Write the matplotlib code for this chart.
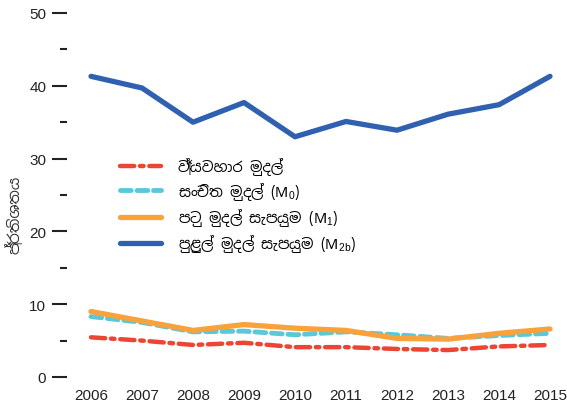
import matplotlib
matplotlib.use("Agg")
import matplotlib.pyplot as plt
from matplotlib.ticker import MultipleLocator

# --- DATA ---
years = [2006, 2007, 2008, 2009, 2010, 2011, 2012, 2013, 2014, 2015]
currency = [5.45, 5.0, 4.4, 4.7, 4.1, 4.1, 3.85, 3.7, 4.2, 4.4]
reserve_m0 = [8.3, 7.5, 6.2, 6.3, 5.8, 6.2, 5.8, 5.3, 5.7, 6.0]
narrow_m1 = [9.0, 7.7, 6.4, 7.2, 6.7, 6.4, 5.3, 5.2, 6.0, 6.6]
broad_m2b = [41.3, 39.7, 35.0, 37.7, 33.0, 35.1, 33.9, 36.1, 37.4, 41.3]

labels = ["ව්‍යවහාර මුදල්", "සංචිත මුදල් (M$_0$)",
          "පටු මුදල් සැපයුම (M$_1$)", "පුළුල් මුදල් සැපයුම (M$_{2b}$)"]
ylabel = "ප්‍රතිශතය"

SI = ["Noto Sans Sinhala", "Liberation Sans", "DejaVu Sans"]
plt.rcParams["font.family"] = ["Liberation Sans", "DejaVu Sans"]
plt.rcParams["mathtext.fontset"] = "custom"
plt.rcParams["mathtext.rm"] = "Liberation Sans"
plt.rcParams["mathtext.it"] = "Liberation Sans"

fig = plt.figure(figsize=(5.67, 4.14), dpi=100)
ax = fig.add_axes([67 / 567, 1 - 378 / 414, 500 / 567, 364 / 414])

ax.plot(years, currency, color="#ee4433", lw=3.2, dashes=(3.2, 1.3, 0.8, 1.3),
        dash_capstyle="round", label=labels[0])
ax.plot(years, reserve_m0, color="#5bc8da", lw=3.5, dashes=(2.2, 1.2),
        dash_capstyle="round", label=labels[1])
ax.plot(years, narrow_m1, color="#f9a23b", lw=3.8, solid_capstyle="round",
        label=labels[2])
ax.plot(years, broad_m2b, color="#3060b0", lw=3.8, solid_capstyle="round",
        label=labels[3])

ax.set_xlim(2006 - 24 / 51, 2006 + (567 - 91) / 51)
ax.set_ylim(0, 50)
ax.set_xticks(years)
ax.yaxis.set_major_locator(MultipleLocator(10))
ax.yaxis.set_minor_locator(MultipleLocator(5))
ax.tick_params(axis="y", which="major", length=11, width=1.5, pad=4,
               labelsize=11, colors="#222222")
ax.tick_params(axis="y", which="minor", length=5, width=1.5, color="#222222")
ax.tick_params(axis="x", length=0, pad=8, labelsize=11, labelcolor="#222222")
for s in ax.spines.values():
    s.set_visible(False)

ax.set_ylabel(ylabel, family=SI, fontsize=11, color="#333333")
ax.yaxis.set_label_coords(-0.088, 0.448)

leg = ax.legend(loc="upper left", bbox_to_anchor=(0.08, 0.64), frameon=False,
                handlelength=2.8, handletextpad=1.2, labelspacing=0.3,
                prop={"family": SI, "size": 10.5})

fig.savefig("out.png")
